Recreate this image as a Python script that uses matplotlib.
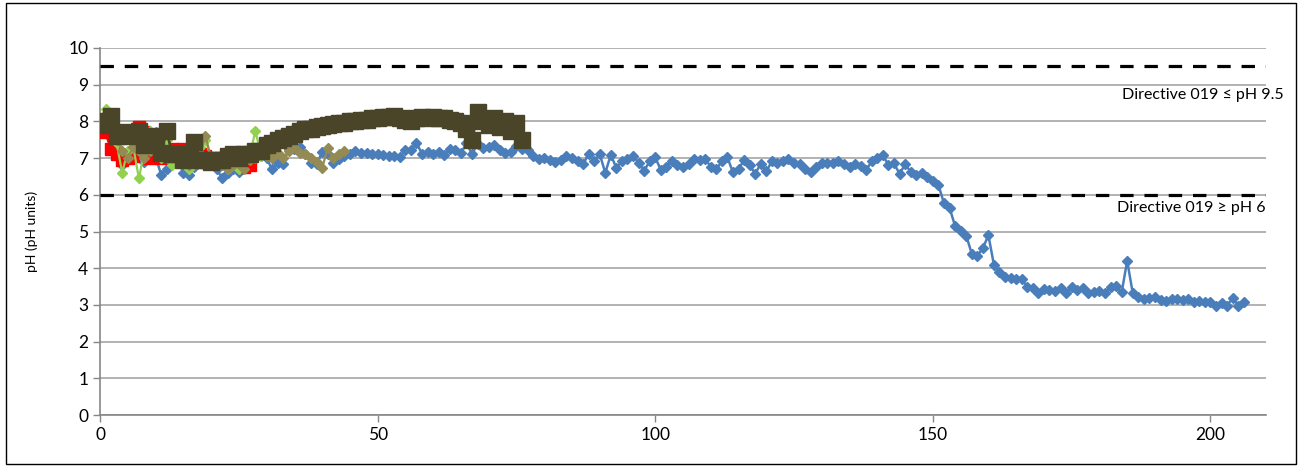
import numpy as np
import matplotlib.pyplot as plt
from matplotlib.patches import Rectangle

plt.rcParams['font.family'] = ['Lato', 'DejaVu Sans']

# pH readings, one per sample
blue_ph = [7.9, 8.05, 7.7, 7.3, 6.8, 7.2, 7.4, 7.1, 6.9, 7.0,
           7.05, 6.55, 6.7, 6.9, 6.95, 6.6, 6.55, 6.75, 6.9, 6.8,
           6.85, 6.7, 6.46, 6.6, 6.7, 6.63, 6.75, 6.95, 7.0, 7.05,
           7.0, 6.69, 6.88, 6.85, 7.25, 7.25, 7.3, 7.12, 6.88, 6.83,
           7.16, 7.11, 6.88, 6.98, 7.07, 7.11, 7.18, 7.13, 7.13, 7.11,
           7.11, 7.08, 7.06, 7.06, 7.02, 7.23, 7.21, 7.42, 7.11, 7.16,
           7.11, 7.16, 7.09, 7.25, 7.21, 7.13, 7.41, 7.11, 7.39, 7.27,
           7.3, 7.37, 7.21, 7.13, 7.16, 7.32, 7.25, 7.21, 7.07, 6.97,
           7.0, 6.94, 6.9, 6.94, 7.07, 7.0, 6.93, 6.83, 7.11, 6.91,
           7.11, 6.6, 7.09, 6.73, 6.91, 6.97, 7.06, 6.88, 6.66, 6.91,
           7.02, 6.68, 6.77, 6.93, 6.82, 6.75, 6.84, 6.97, 6.95, 6.97,
           6.77, 6.7, 6.91, 7.02, 6.61, 6.7, 6.95, 6.82, 6.57, 6.85,
           6.64, 6.91, 6.86, 6.91, 6.97, 6.86, 6.85, 6.7, 6.61, 6.75,
           6.86, 6.88, 6.88, 6.91, 6.85, 6.75, 6.84, 6.79, 6.68, 6.91,
           7.0, 7.08, 6.81, 6.86, 6.57, 6.83, 6.63, 6.54, 6.6, 6.49,
           6.38, 6.27, 5.77, 5.65, 5.15, 5.02, 4.89, 4.4, 4.34, 4.54,
           4.9, 4.09, 3.91, 3.77, 3.74, 3.7, 3.7, 3.5, 3.45, 3.33,
           3.44, 3.4, 3.37, 3.46, 3.33, 3.5, 3.41, 3.47, 3.32, 3.35,
           3.38, 3.32, 3.48, 3.52, 3.34, 4.2, 3.32, 3.21, 3.17, 3.19,
           3.21, 3.14, 3.11, 3.16, 3.16, 3.14, 3.16, 3.07, 3.1, 3.07,
           3.07, 2.98, 3.05, 2.98, 3.19, 2.98, 3.09]
red_ph = [7.95, 7.7, 7.25, 7.1, 6.95, 7.0, 7.05, 7.85, 7.7, 7.0,
          7.1, 7.0, 7.1, 7.25, 7.2, 7.25, 7.2, 7.15, 7.1, 7.05,
          6.95, 7.0, 6.9, 6.9, 6.95, 7.0, 6.75, 6.8]
green_ph = [8.0, 8.35, 7.8, 7.4, 6.6, 7.2, 7.3, 6.45, 7.2, 7.75,
            7.2, 7.0, 7.5, 6.8, 7.0, 7.2, 6.7, 7.0, 7.3, 7.5,
            7.0, 6.85, 6.9, 6.7, 6.8, 6.7, 7.0, 7.1, 7.75, 7.05]
tan_ph = [8.0, 8.2, 7.9, 7.5, 7.2, 7.0, 7.3, 7.2, 7.0, 7.2,
          7.7, 7.3, 7.0, 7.1, 7.2, 6.9, 6.8, 7.0, 7.1, 7.6,
          7.0, 6.9, 6.8, 6.7, 6.8, 6.85, 6.7, 6.95, 7.0, 7.1,
          7.05, 7.0, 7.13, 7.0, 7.2, 7.3, 7.15, 7.1, 7.0, 6.9,
          6.72, 7.27, 7.0, 7.1, 7.18]
olive_ph = [7.9, 8.0, 8.15, 7.6, 7.7, 7.6, 7.65, 7.75, 7.35, 7.5,
            7.6, 7.15, 7.75, 7.1, 7.1, 6.95, 7.0, 7.45, 6.95, 6.95,
            6.9, 6.95, 6.95, 7.05, 7.1, 7.0, 7.1, 7.1, 7.2, 7.2,
            7.35, 7.4, 7.5, 7.55, 7.6, 7.65, 7.75, 7.78, 7.8, 7.85,
            7.88, 7.9, 7.92, 7.95, 7.97, 8.0, 8.02, 8.05, 8.05, 8.08,
            8.1, 8.12, 8.12, 8.15, 8.1, 8.05, 8.0, 8.1, 8.12, 8.1,
            8.12, 8.1, 8.08, 8.05, 8.0, 7.95, 7.8, 7.5, 8.25, 8.0,
            7.9, 8.1, 7.85, 8.0, 7.75, 7.95, 7.5]

limit_high = 9.5
limit_low = 6
label_high = 'Directive 019 \u2264 pH 9.5'
label_low = 'Directive 019 \u2265 pH 6'

fig = plt.figure(figsize=(13.02, 4.66), dpi=100)
ax = fig.add_axes([100 / 1302, 51 / 466, 1166 / 1302, 367 / 466])

ax.plot(range(len(blue_ph)), blue_ph, color='#4A7EBB', lw=1.8, marker='D', ms=5.5, zorder=3)
ax.plot(range(len(red_ph)), red_ph, color='#FF0000', lw=2, marker='s', ms=9, zorder=4)
ax.plot(range(len(green_ph)), green_ph, color='#92D050', lw=1.6, marker='D', ms=5, zorder=5)
ax.plot(range(len(tan_ph)), tan_ph, color='#948A54', lw=1.6, marker='D', ms=5, zorder=6)
ax.plot(range(len(olive_ph)), olive_ph, color='#4A4429', lw=2, marker='s', ms=11.5, zorder=7)

# guideline limits
for y in (limit_high, limit_low):
    ax.axhline(y, color='black', lw=2.3, ls=(0, (4.2, 3.4)), zorder=8)

ax.text(1.015, 8.72, label_high, transform=ax.get_yaxis_transform(), ha='right',
        va='center', fontsize=11.5, clip_on=False)
ax.text(1.0, 5.65, label_low, transform=ax.get_yaxis_transform(), ha='right',
        va='center', fontsize=11.5, clip_on=False)

ax.set_xlim(0, 210)
ax.set_ylim(0, 10)
ax.set_xticks([0, 50, 100, 150, 200])
ax.set_yticks(range(0, 11))
ax.grid(axis='y', color='#A6A6A6', lw=1.2)
ax.set_axisbelow(True)
for s in ['top', 'right']:
    ax.spines[s].set_visible(False)
for s in ['left', 'bottom']:
    ax.spines[s].set_color('#868686')
    ax.spines[s].set_linewidth(1.2)
ax.tick_params(axis='both', colors='#868686', labelcolor='black', labelsize=12.5, length=5, width=1)
ax.set_ylabel('pH (pH units)', fontsize=10, labelpad=22)

fig.patches.append(Rectangle((6 / 1302, 2 / 466), 1290 / 1302, 461 / 466, transform=fig.transFigure,
                             fill=False, edgecolor='black', lw=1))

plt.savefig('out.png', dpi=100)
